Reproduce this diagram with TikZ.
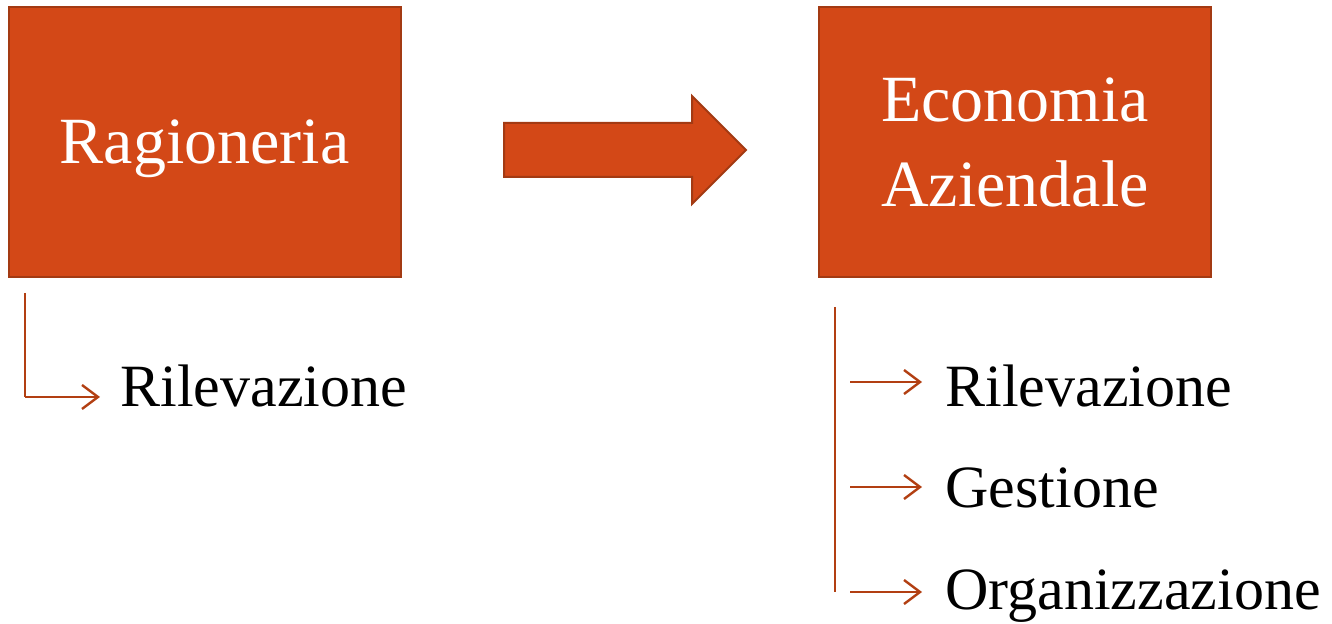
\documentclass[tikz,border=0pt]{standalone}
\usepackage{fontspec}
\setmainfont{Liberation Serif}
\usetikzlibrary{arrows.meta}
\definecolor{boxfill}{HTML}{D34817}
\definecolor{boxline}{HTML}{A33A13}
\definecolor{linkcol}{HTML}{B23F12}
\tikzset{
  box/.style={draw=boxline, line width=1pt, fill=boxfill, text=white,
    minimum width=196pt, minimum height=135pt, align=center,
    font=\fontsize{33}{42.5}\selectfont},
  item/.style={anchor=base west, inner sep=0pt,
    font=\fontsize{30}{36}\selectfont},
  link/.style={draw=linkcol, line width=1.2pt},
  linkto/.style={link, -{Straight Barb[length=8pt,width=12pt,line width=1.2pt]}}
}
\begin{document}
\begin{tikzpicture}[x=0.5pt,y=-0.5pt]
  \useasboundingbox (0,0) rectangle (1332,624);
  \node [box, text depth=0pt] (1) at (204.5,142) {Ragioneria};
  \node [box] (2) at (1015,142) {Economia\\Aziendale};
  \filldraw [draw=boxline, line width=1pt, fill=boxfill]
    (504,123) -- (692,123) -- (692,96) -- (746,150) -- (692,204)
    -- (692,177) -- (504,177) -- cycle;
  \node [item] (3) at (120,407) {Rilevazione};
  \node [item] (4) at (945,407) {Rilevazione};
  \node [item] (5) at (945,508) {Gestione};
  \node [item] (6) at (945,609) {Organizzazione};
  \coordinate (a) at (25,293);
  \coordinate (b) at (25,397);
  \coordinate (c) at (835,307);
  \coordinate (d) at (835,592);
  \draw [link] (a) -- (b);
  \draw [linkto] (b) -- ([xshift=-10pt]b -| 3.west);
  \draw [link] (c) -- (d);
  \foreach \n/\y in {4/382, 5/487, 6/592}
    \draw [linkto] (850,\y) -- (922,\y);
\end{tikzpicture}
\end{document}
